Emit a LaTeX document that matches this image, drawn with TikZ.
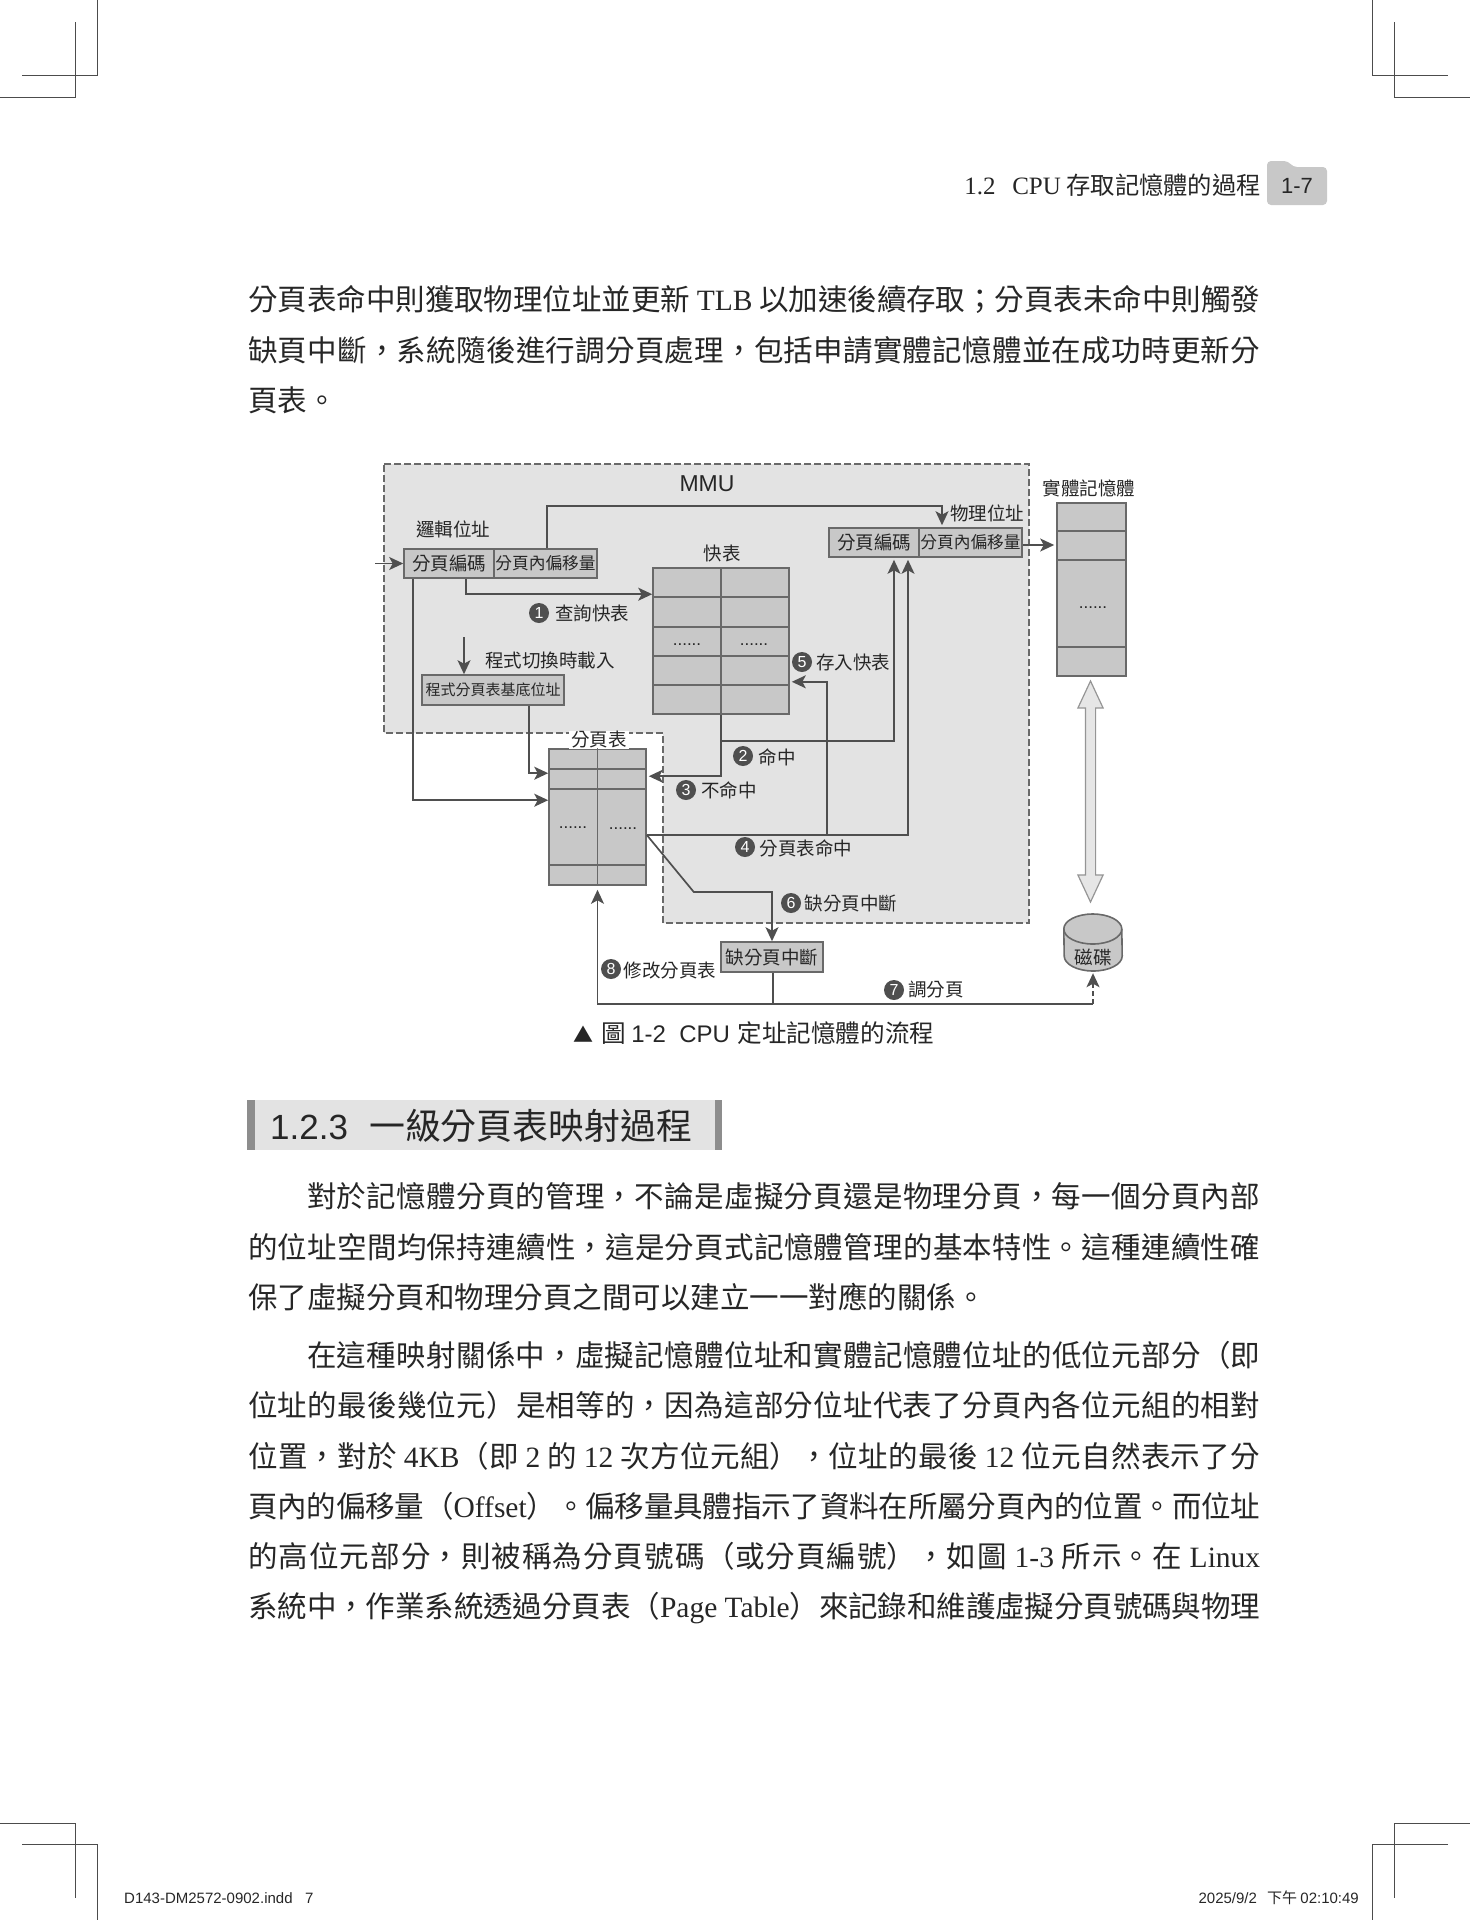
\documentclass[tikz,border=0pt]{standalone}
\usepackage{fontspec}
\setmainfont{Noto Sans CJK TC}
\newfontfamily\tmfont{Liberation Serif}
\newfontfamily\arfont{Liberation Sans}
\usetikzlibrary{arrows.meta,calc,shapes.arrows}
\XeTeXlinebreaklocale "zh"
\XeTeXlinebreakskip=0pt plus 3pt minus 1pt
\tolerance=9999
\hbadness=10000
\definecolor{linegray}{HTML}{4F4F4F}
\definecolor{boxgray}{HTML}{C8C8C8}
\definecolor{mmugray}{HTML}{E3E3E3}
\definecolor{inkgray}{HTML}{262626}
\tikzset{
  flow/.style={draw=linegray,line width=1.7pt,-{Stealth[length=14pt,width=13pt,inset=3.5pt]}},
  plainline/.style={draw=linegray,line width=1.7pt},
  cropline/.style={draw=black!70,line width=1pt},
  cellline/.style={draw=linegray!85,line width=1.3pt},
  tabbox/.style={draw=linegray!85,fill=boxgray,line width=1.6pt,inner sep=0pt},
  regbox/.style={tabbox,text=inkgray,font=\fontsize{18.5}{22}\selectfont},
  lbl/.style={text=inkgray,inner sep=0pt,font=\fontsize{18.5}{22}\selectfont},
  numdot/.style={circle,fill=linegray,text=white,inner sep=0pt,minimum size=20pt,font=\arfont\fontsize{16}{18}\selectfont},
  dots/.style={anchor=base,text=inkgray,inner sep=0pt,font=\arfont\fontsize{17}{20}\selectfont},
  bodytext/.style={anchor=north west,inner sep=0pt,text width=1012pt,align=justify,text=inkgray,font=\fontsize{29.5}{50.3}\selectfont},
}
\begin{document}
\begin{tikzpicture}[x=1pt,y=-1pt]
\useasboundingbox (0,0) rectangle (1470,1920);
% crop marks
\draw[cropline] (97.5,0) -- (97.5,75) -- (22,75);
\draw[cropline] (75,22) -- (75,97) -- (0,97);
\draw[cropline] (1372.5,0) -- (1372.5,75) -- (1448,75);
\draw[cropline] (1394,22) -- (1394,97) -- (1470,97);
\draw[cropline] (0,1823) -- (75,1823) -- (75,1898);
\draw[cropline] (22,1844) -- (97.5,1844) -- (97.5,1920);
\draw[cropline] (1470,1823) -- (1394,1823) -- (1394,1898);
\draw[cropline] (1448,1844) -- (1372.5,1844) -- (1372.5,1920);
% running head
\node[anchor=east,lbl,font=\fontsize{24.3}{28}\selectfont] (headline) at (1261,185) {{\tmfont\fontsize{25}{28}\selectfont 1.2\ \ \,CPU}\ 存取記憶體的過程};
\fill[boxgray,rounded corners=4pt] (1267,205) -- (1267,161) -- (1288,161) -- (1293,167) -- (1327,167) -- (1327,205) -- cycle;
\node[lbl,font=\arfont\fontsize{22}{26}\selectfont] (pageno) at (1297,186) {1-7};
% body text
\node[bodytext] (para1) at (248,285.5) {分頁表命中則獲取物理位址並更新 {\tmfont TLB} 以加速後續存取^^^^ff1b分頁表未命中則觸發\break 缺頁中斷^^^^ff0c系統隨後進行調分頁處理^^^^ff0c包括申請實體記憶體並在成功時更新分\break 頁表。};
\node[bodytext] (para2) at (248,1182.5) {\hspace*{59pt}對於記憶體分頁的管理^^^^ff0c不論是虛擬分頁還是物理分頁^^^^ff0c每一個分頁內部\break 的位址空間均保持連續性^^^^ff0c這是分頁式記憶體管理的基本特性。這種連續性確\break 保了虛擬分頁和物理分頁之間可以建立一一對應的關係。};
\node[bodytext] (para3) at (248,1341) {\parfillskip=0pt\hspace*{59pt}在這種映射關係中^^^^ff0c虛擬記憶體位址和實體記憶體位址的低位元部分^^^^ff08即\break 位址的最後幾位元^^^^ff09是相等的^^^^ff0c因為這部分位址代表了分頁內各位元組的相對\break 位置^^^^ff0c對於 {\tmfont 4KB}^^^^ff08即 {\tmfont 2} 的 {\tmfont 12} 次方位元組^^^^ff09^^^^ff0c位址的最後 {\tmfont 12} 位元自然表示了分\break 頁內的偏移量^^^^ff08{\tmfont Offset}^^^^ff09。偏移量具體指示了資料在所屬分頁內的位置。而位址\break 的高位元部分^^^^ff0c則被稱為分頁號碼^^^^ff08或分頁編號^^^^ff09^^^^ff0c如圖 {\tmfont 1-3} 所示。在 {\tmfont Linux}\break 系統中^^^^ff0c作業系統透過分頁表^^^^ff08{\tmfont Page Table}^^^^ff09來記錄和維護虛擬分頁號碼與物理};
% section heading
\fill[mmugray] (247,1100) rectangle (722,1150);
\fill[linegray!65] (247,1100) rectangle (255,1150);
\fill[linegray!65] (715,1100) rectangle (722,1150);
\node[anchor=west,lbl,font=\fontsize{35.9}{40}\selectfont] (sectitle) at (270,1126) {{\arfont\fontsize{35}{40}\selectfont 1.2.3}\ \ \hspace{5pt}一級分頁表映射過程};
% MMU region
\draw[fill=mmugray,draw=linegray!85,line width=1.2pt,dash pattern=on 7pt off 3pt] (384,464) -- (1029,464) -- (1029,923) -- (663,923) -- (663,733) -- (384,733) -- cycle;
\node[lbl,font=\arfont\fontsize{23}{26}\selectfont] (mmu) at (707,484) {MMU};
% address registers
\node[regbox,minimum width=90pt,minimum height=29pt] (vpn) at (449,563.5) {分頁編碼};
\node[regbox,minimum width=103pt,minimum height=29pt,font=\fontsize{16.7}{20}\selectfont] (voff) at (545.5,563.5) {分頁內偏移量};
\node[lbl] (vlabel) at (453,529) {邏輯位址};
\node[regbox,minimum width=90pt,minimum height=29pt] (ppn) at (874,542.5) {分頁編碼};
\node[regbox,minimum width=103pt,minimum height=29pt,font=\fontsize{16.7}{20}\selectfont] (poff) at (970.5,542.5) {分頁內偏移量};
\node[lbl] (plabel) at (987,513) {物理位址};
\node[regbox,minimum width=142pt,minimum height=30pt,font=\fontsize{15}{18}\selectfont] (basereg) at (493,690) {程式分頁表基底位址};
\node[lbl] (loadtext) at (550,660) {程式切換時載入};
\node[regbox,minimum width=102pt,minimum height=30pt] (fault) at (772,957) {缺分頁中斷};
% TLB
\node[tabbox,minimum width=136pt,minimum height=146pt] (tlb) at (721,641) {};
\node[lbl] (tlblabel) at (722,553) {快表};
\foreach \rowy in {597,627,656,685}
  \draw[cellline] (653,\rowy) -- (789,\rowy);
\draw[cellline] (tlb.north) -- (tlb.south);
\node[dots] (tlbdotsa) at (687,645) {......};
\node[dots] (tlbdotsb) at (754,645) {......};
% page table
\node[tabbox,minimum width=97pt,minimum height=136pt] (ptab) at (597.5,817) {};
\node[lbl,fill=white,inner xsep=2pt] (ptablabel) at (599,740) {分頁表};
\foreach \rowy in {769,789,865}
  \draw[cellline] (549,\rowy) -- (646,\rowy);
\draw[cellline] (ptab.north) -- (ptab.south);
\node[dots] (ptabdotsa) at (573,828) {......};
\node[dots] (ptabdotsb) at (623,829) {......};
% physical memory and disk
\node[tabbox,minimum width=69pt,minimum height=173pt] (pmem) at (1091.5,589.5) {};
\node[lbl] (pmemlabel) at (1089,488) {實體記憶體};
\foreach \rowy in {531,560,647}
  \draw[cellline] (1057,\rowy) -- (1126,\rowy);
\node[dots] (pmemdots) at (1093,608) {......};
\node[draw=linegray!60,fill=mmugray!90,double arrow,rotate=90,line width=1.2pt,inner xsep=0pt,inner ysep=4.5pt,minimum height=221pt,double arrow head extend=7.5pt,double arrow tip angle=50] (ioarrow) at (1090.5,791.5) {};
\node[minimum width=58pt,minimum height=57pt,inner sep=0pt] (disk) at (1093,942.5) {};
\draw[draw=linegray!85,fill=boxgray,line width=1.6pt] (disk.west |- 0,929) arc[start angle=180,end angle=0,x radius=29pt,y radius=15pt] -- (disk.east |- 0,956) arc[start angle=0,end angle=-180,x radius=29pt,y radius=15pt] -- cycle;
\draw[draw=linegray!85,line width=1.6pt] (disk.west |- 0,929) arc[start angle=180,end angle=360,x radius=29pt,y radius=15pt];
\node[lbl] (disklabel) at (1093,957) {磁碟};
% connectors
\coordinate (infeed) at (375,563.5);
\draw[flow] (infeed) -- (vpn.west);
\draw[flow] ([xshift=1.5pt]voff.north) -- ++(0,-42) -| ([xshift=-28.5pt,yshift=2pt]poff.north);
\draw[flow,shorten >=2pt] ([yshift=-2.5pt]poff.east) -- ([yshift=-2.5pt]pmem.west |- poff.east);
\draw[flow] ([xshift=17pt]vpn.south) |- ([yshift=-27pt]tlb.north west);
\coordinate (loadstart) at (464,637);
\draw[flow] (loadstart) -- (loadstart |- basereg.north);
\draw[flow] ([xshift=-36pt]vpn.south) |- ([yshift=-52pt]ptab.north west);
\draw[flow] ([xshift=36pt]basereg.south) |- ([yshift=-25pt]ptab.north west);
\draw[flow] (tlb.south) |- ([xshift=2pt,yshift=-28pt]ptab.north east);
\coordinate (hitfork) at ([yshift=-26pt]tlb.south);
\draw[flow] (hitfork) -| ([xshift=20pt,yshift=-2pt]ppn.south);
\coordinate (pthit) at ([yshift=-18pt]ptab.east);
\draw[flow] (pthit) -| ([xshift=34pt,yshift=-2pt]ppn.south);
\draw[flow] ([xshift=180pt]pthit) |- ([xshift=2pt,yshift=33pt]tlb.south east);
\draw[flow] (pthit) -- ++(47,57) -| (fault.north);
\coordinate (busjoin) at ([xshift=1pt,yshift=-31pt]fault.south);
\draw[plainline] ([xshift=1pt]fault.south) -- (busjoin);
\draw[flow] (busjoin) -| ([yshift=-4pt]ptab.south);
\coordinate (diskdrop) at (disk.south |- busjoin);
\draw[plainline] (busjoin) -- (diskdrop);
\draw[flow,dash pattern=on 5pt off 3pt] (diskdrop) -- ([yshift=-2pt]disk.south);
% numbered labels
\node[numdot] (num1) at (539,613) {1};
\node[lbl] (txt1) at (592,613) {查詢快表};
\node[numdot] (num2) at (743,756) {2};
\node[lbl] (txt2) at (777,757) {命中};
\node[numdot] (num3) at (686,790) {3};
\node[lbl] (txt3) at (729,790) {不命中};
\node[numdot] (num4) at (745,847) {4};
\node[lbl] (txt4) at (806,848) {分頁表命中};
\node[numdot] (num5) at (802,662) {5};
\node[lbl] (txt5) at (853,662) {存入快表};
\node[numdot] (num6) at (791,903) {6};
\node[lbl] (txt6) at (851,903) {缺分頁中斷};
\node[numdot] (num7) at (894,990) {7};
\node[lbl] (txt7) at (936,990) {調分頁};
\node[numdot] (num8) at (611,969) {8};
\node[lbl] (txt8) at (670,970) {修改分頁表};
% caption and footer
\node[anchor=west,lbl,font=\fontsize{24.6}{28}\selectfont] (caption) at (573,1033) {{\fontsize{20}{24}\selectfont ▲}\hspace{2.5pt} 圖 {\arfont\fontsize{24}{28}\selectfont 1-2\ \ CPU}\hspace{2pt} 定址記憶體的流程};
\node[anchor=west,lbl,font=\arfont\fontsize{15}{18}\selectfont] (footleft) at (124,1898) {D143-DM2572-0902.indd\ \ \ 7};
\node[anchor=east,lbl,font=\fontsize{15}{18}\selectfont] (footright) at (1359,1898) {{\arfont 2025/9/2}\ \ \ 下午 {\arfont 02:10:49}};
\end{tikzpicture}
\end{document}
